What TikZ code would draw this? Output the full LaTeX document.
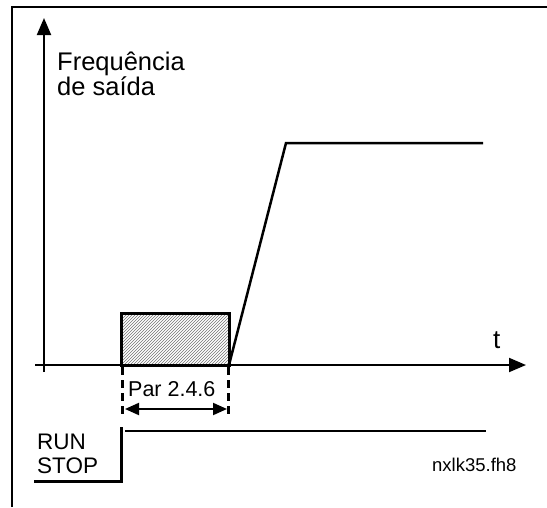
\documentclass[tikz,border=0pt]{standalone}
\usepackage{fontspec}
\setmainfont{Liberation Sans}
\usetikzlibrary{arrows.meta,patterns}
\begin{document}
\begin{tikzpicture}[x=1pt,y=-1pt,
  axis/.style={line width=2pt,-{Triangle[length=17pt,width=14pt]}},
  lbl/.style={anchor=base west,inner sep=0pt,font=\fontsize{25.5}{25.5}\selectfont},
  thinline/.style={line width=2pt},
  thickline/.style={line width=3pt},
  dashline/.style={line width=3pt,dash pattern=on 8pt off 5pt},
  dimarrow/.style={line width=2pt,{Triangle[length=14pt,width=12pt]}-{Triangle[length=14pt,width=12pt]}}]
\useasboundingbox (0,0) rectangle (547,507);
% frame
\coordinate (fa) at (12,507);
\coordinate (fb) at (12,7);
\coordinate (fc) at (547,7);
\draw[line width=2pt] (fa) -- (fb) -- (fc);
% axes
\coordinate (ybot) at (44,372);
\coordinate (ytop) at (44,18);
\coordinate (xl) at (35,365);
\coordinate (xr) at (526,365);
\draw[axis] (ybot) -- (ytop);
\draw[axis] (xl) -- (xr);
\node[lbl] (freq) at (57,70) {Frequência};
\node[lbl] (saida) at (57,95) {de saída};
\node[lbl,font=\fontsize{26}{26}\selectfont] (t) at (493,348) {t};
% hatched block
\coordinate (r1) at (121,313);
\coordinate (r2) at (229,365);
\draw[thickline,pattern=north east lines,pattern color=black!55] (r1) rectangle (r2);
% ramp
\coordinate (rs) at (229,365);
\coordinate (rt) at (286,143);
\coordinate (re) at (483,143);
\draw[line width=2.5pt,line join=miter] (rs) -- (rt) -- (re);
% dashed guides
\coordinate (d1t) at (122,367);
\coordinate (d1b) at (122,417);
\coordinate (d2t) at (228,367);
\coordinate (d2b) at (228,417);
\draw[dashline] (d1t) -- (d1b);
\draw[dashline] (d2t) -- (d2b);
\node[lbl,font=\fontsize{21.5}{21.5}\selectfont] (par) at (128,396) {Par 2.4.6};
\coordinate (al) at (125,409);
\coordinate (ar) at (227,409);
\draw[dimarrow] (al) -- (ar);
% RUN / STOP signal
\coordinate (s0) at (34,481);
\coordinate (s1) at (121,481);
\coordinate (s2) at (121,427);
\draw[thickline,line join=miter] (s0) -- (s1) -- (s2);
\coordinate (h1) at (125,431);
\coordinate (h2) at (486,431);
\draw[thinline] (h1) -- (h2);
\node[lbl,font=\fontsize{22.5}{22.5}\selectfont] (run) at (37,449) {RUN};
\node[lbl,font=\fontsize{22.5}{22.5}\selectfont] (stop) at (37,473) {STOP};
\node[lbl,font=\fontsize{18.5}{18.5}\selectfont] (file) at (432,471) {nxlk35.fh8};
\end{tikzpicture}
\end{document}
